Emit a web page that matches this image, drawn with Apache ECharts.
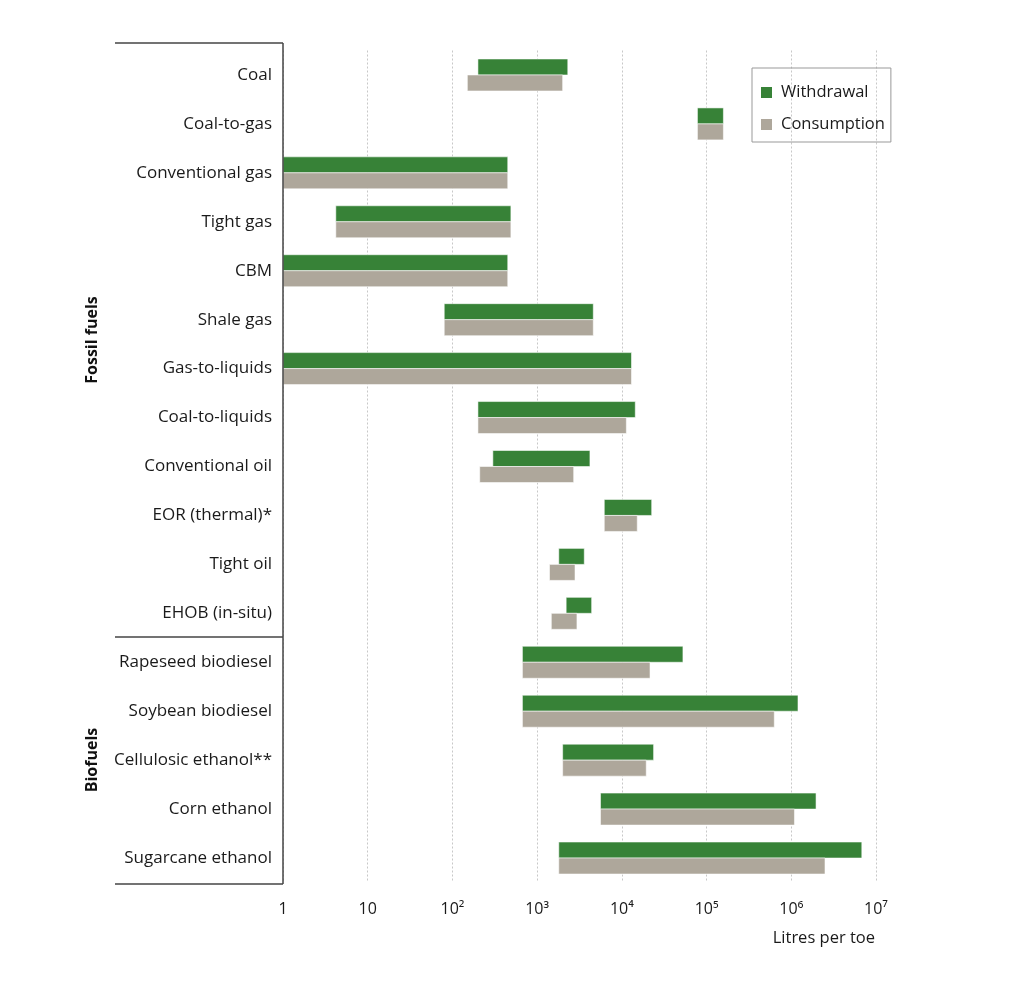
<!DOCTYPE html>
<html>
<head>
<meta charset="utf-8">
<script src="https://cdn.jsdelivr.net/npm/echarts@6/dist/echarts.min.js"></script>
<style>
  html, body { margin: 0; padding: 0; background: #fff; }
  #water { width: 1024px; height: 985px; }
</style>
</head>
<body>
<div id="water"></div>
<script>
// water use per fuel, litres per toe (log scale)
var categories = ['Coal', 'Coal-to-gas', 'Conventional gas', 'Tight gas', 'CBM', 'Shale gas',
    'Gas-to-liquids', 'Coal-to-liquids', 'Conventional oil', 'EOR (thermal)*', 'Tight oil',
    'EHOB (in-situ)', 'Rapeseed biodiesel', 'Soybean biodiesel', 'Cellulosic ethanol**',
    'Corn ethanol', 'Sugarcane ethanol'];

var withdrawalLow  = [200, 78000, 1, 4.2, 1, 80, 1, 200, 300, 6200, 1800, 2200, 670, 670, 2000, 5600, 1800];
var withdrawalHigh = [2300, 158000, 450, 490, 450, 4600, 13000, 14400, 4200, 22500, 3600, 4400, 52600, 1200000, 23700, 1960000, 6800000];
var consumptionLow  = [150, 78000, 1, 4.2, 1, 80, 1, 200, 210, 6200, 1400, 1470, 670, 670, 2000, 5600, 1800];
var consumptionHigh = [2000, 158000, 450, 490, 450, 4600, 13000, 11300, 2700, 15200, 2800, 2950, 21500, 630000, 19400, 1090000, 2500000];

var xTickLabels = {1: '1', 10: '10', 100: '10²', 1000: '10³', 10000: '10⁴', 100000: '10⁵', 1000000: '10⁶', 10000000: '10⁷'};

var font = '"Open Sans", "Noto Sans", sans-serif';

var chart = echarts.init(document.getElementById('water'));

function rangeData(low, high) {
    var out = [];
    for (var i = 0; i < categories.length; i++) {
        out.push([i, low[i], high[i]]);
    }
    return out;
}

function renderRange(params, api) {
    var cat = api.value(0);
    var p0 = api.coord([api.value(1), cat]);
    var p1 = api.coord([api.value(2), cat]);
    var h = 16;
    var y = params.seriesIndex === 0 ? p0[1] - h : p0[1];
    return {
        type: 'rect',
        shape: { x: p0[0], y: y, width: p1[0] - p0[0], height: h },
        style: { fill: api.visual('color'), stroke: 'rgba(255,255,255,0.55)', lineWidth: 1 }
    };
}

var option = {
    backgroundColor: '#fff',
    textStyle: { fontFamily: font },
    animation: false,
    grid: { left: 283, right: 148, top: 50.5, height: 832 },
    legend: {
        orient: 'vertical',
        left: 752,
        top: 68,
        padding: [16, 6, 9, 9],
        itemGap: 15,
        itemWidth: 11,
        itemHeight: 11,
        borderColor: '#999',
        borderWidth: 1,
        textStyle: { fontSize: 16.5, color: '#1a1a1a', fontFamily: font, padding: [0, 0, 0, 4] },
        data: [{ name: 'Withdrawal', icon: 'rect' }, { name: 'Consumption', icon: 'rect' }]
    },
    xAxis: {
        type: 'log',
        logBase: 10,
        min: 1,
        max: 10000000,
        axisLine: { show: false },
        axisTick: { show: false },
        axisLabel: {
            margin: 19,
            fontSize: 16,
            color: '#1a1a1a',
            formatter: function (v) { return xTickLabels[Math.round(v)] || ''; }
        },
        splitLine: { show: true, lineStyle: { color: '#c8c8c8', type: [2, 2], width: 1 } }
    },
    yAxis: {
        type: 'category',
        inverse: true,
        data: categories,
        axisLine: { show: false },
        axisTick: { show: false },
        axisLabel: { margin: 11, fontSize: 17, color: '#1a1a1a' },
        splitLine: { show: false }
    },
    series: [{
        name: 'Withdrawal',
        type: 'custom',
        renderItem: renderRange,
        itemStyle: { color: '#378237' },
        encode: { x: [1, 2], y: 0 },
        data: rangeData(withdrawalLow, withdrawalHigh)
    }, {
        name: 'Consumption',
        type: 'custom',
        renderItem: renderRange,
        itemStyle: { color: '#aea79b' },
        encode: { x: [1, 2], y: 0 },
        data: rangeData(consumptionLow, consumptionHigh)
    }],
    graphic: [
        // left frame with the two group brackets
        { type: 'line', shape: { x1: 283, y1: 43, x2: 283, y2: 884 }, style: { stroke: '#444', lineWidth: 1.5 }, z: 10 },
        { type: 'line', shape: { x1: 115, y1: 43, x2: 283, y2: 43 }, style: { stroke: '#444', lineWidth: 1.5 }, z: 10 },
        { type: 'line', shape: { x1: 115, y1: 637, x2: 283, y2: 637 }, style: { stroke: '#444', lineWidth: 1.5 }, z: 10 },
        { type: 'line', shape: { x1: 115, y1: 884, x2: 283, y2: 884 }, style: { stroke: '#444', lineWidth: 1.5 }, z: 10 },
        {
            type: 'text', x: 92, y: 340, rotation: Math.PI / 2,
            style: { text: 'Fossil fuels', font: 'bold 16px ' + font, fill: '#111', align: 'center', verticalAlign: 'middle' }
        },
        {
            type: 'text', x: 92, y: 760, rotation: Math.PI / 2,
            style: { text: 'Biofuels', font: 'bold 16px ' + font, fill: '#111', align: 'center', verticalAlign: 'middle' }
        },
        {
            type: 'text', x: 875, y: 938,
            style: { text: 'Litres per toe', font: '16.5px ' + font, fill: '#1a1a1a', align: 'right', verticalAlign: 'middle' }
        }
    ]
};

chart.setOption(option);
</script>
</body>
</html>
